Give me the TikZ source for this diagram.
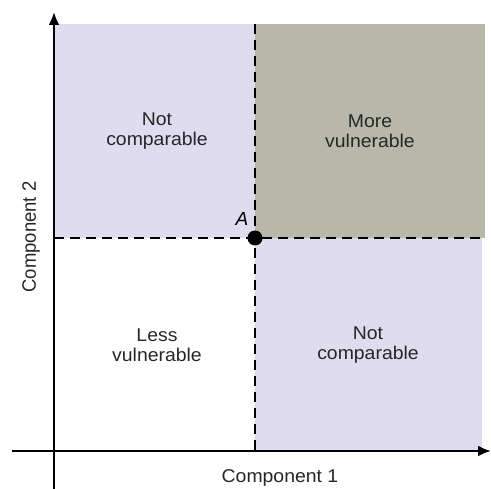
\documentclass[tikz,border=0pt]{standalone}
\usepackage{fontspec}
\setmainfont{Liberation Sans}
\usetikzlibrary{arrows.meta}
\definecolor{lav}{RGB}{222,220,238}
\definecolor{olivegray}{RGB}{184,184,170}
\tikzset{
  axis/.style={line width=2.3pt,-{Latex[length=13pt,width=11pt]}},
  dline/.style={line width=2.3pt,dash pattern=on 10pt off 6pt},
  lbl/.style={align=center,font=\fontsize{18.5}{19.5}\selectfont,text=black!85,xscale=1.05},
}
\begin{document}
\begin{tikzpicture}[x=1pt,y=-1pt]
\useasboundingbox (0,0) rectangle (491,489);
% regions
\fill[lav] (55,24) rectangle (255,238);
\fill[olivegray] (255,24) rectangle (485,238);
\fill[lav] (255,238) rectangle (482,451);
% coordinates
\coordinate (yb) at (54,489);
\coordinate (yt) at (54,12);
\coordinate (xl) at (12,451);
\coordinate (xr) at (491,451);
\coordinate (vt) at (255,24);
\coordinate (vb) at (255,451);
\coordinate (hl) at (54,238);
\coordinate (hr) at (485,238);
% dashed lines
\draw[dline] (vt) -- (vb);
\draw[dline] (hl) -- (hr);
% axes
\draw[axis] (yb) -- (yt);
\draw[axis] (xl) -- (xr);
% point A
\node[circle,fill=black,inner sep=0pt,minimum size=15pt] (A) at (255,238) {};
\node[font=\fontsize{19}{20}\selectfont\itshape] (Alab) at (242,219) {A};
% labels
\node[lbl] (tl) at (157,131) {Not\\comparable};
\node[lbl] (tr) at (370,131) {More\\vulnerable};
\node[lbl] (bl) at (157,345) {Less\\vulnerable};
\node[lbl] (br) at (368,345) {Not\\comparable};
\node[lbl] (x1) at (280,478) {Component 1};
\node[lbl,rotate=90] (y2) at (31,237) {Component 2};
\end{tikzpicture}
\end{document}
